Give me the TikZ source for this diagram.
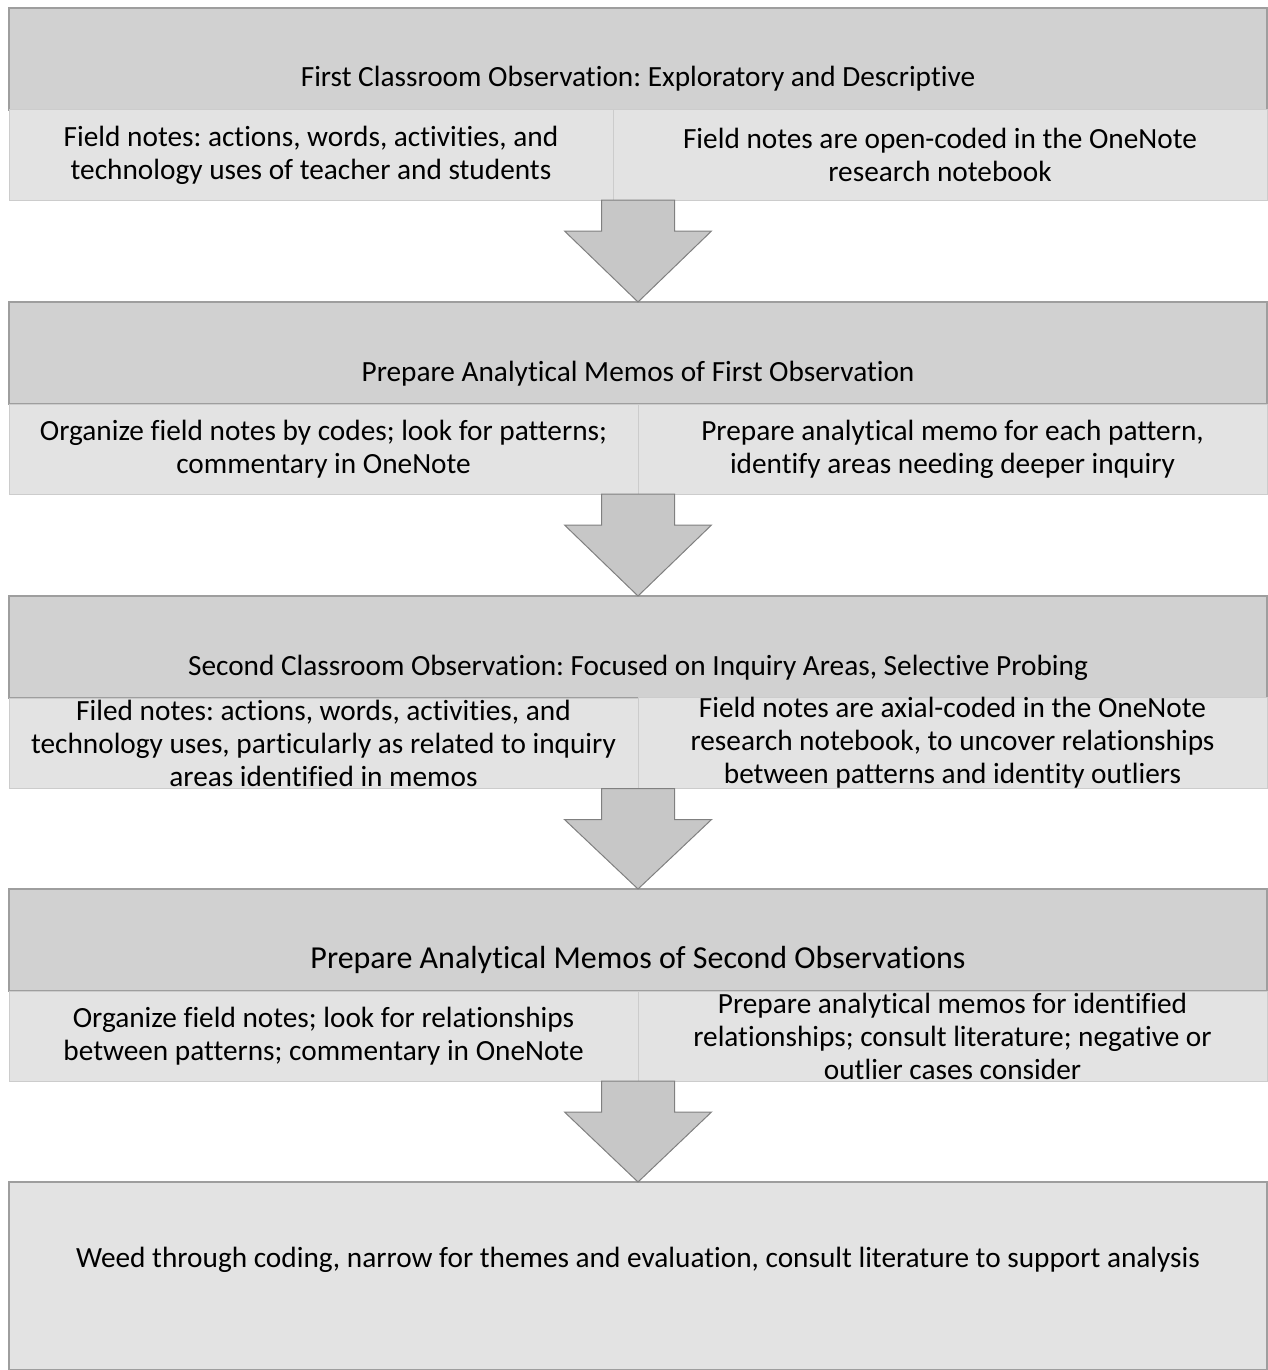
\documentclass[tikz,border=0pt]{standalone}
\usepackage{fontspec}
\setmainfont{Carlito}[Ligatures=NoCommon]
\frenchspacing
\usetikzlibrary{positioning,calc}

\newcommand{\flowarrow}[2]{%
  \draw[bigarrow] let \p1=(#1.south), \p2=(#2.north) in
    (\x2-36.5,\y1) -- (\x2+36.5,\y1) -- (\x2+36.5,\y1-31) -- (\x2+73.5,\y1-31)
    -- (\x2,\y2) -- (\x2-73.5,\y1-31) -- (\x2-36.5,\y1-31) -- cycle;}

\begin{document}
\begin{tikzpicture}[x=1pt,y=-1pt,
    head/.style={rectangle,fill=black!18,draw=black!38,line width=1.2pt,
      minimum width=1258pt,inner sep=0pt,outer sep=0pt,
      text height=79pt,text depth=23pt,anchor=north west,
      font=\fontsize{29.3}{35}\selectfont},
    sub/.style={rectangle,fill=black!11,draw=black!20,line width=1pt,
      minimum height=90pt,inner sep=0pt,outer sep=0pt,align=center,
      font=\fontsize{29.3}{33}\selectfont},
    bigarrow/.style={fill=black!22,draw=black!50,line width=1pt,line join=miter}]
  \useasboundingbox (0,0) rectangle (1267,1370);

  % first observation
  \node[head] (obs1) at (9,8) {First Classroom Observation: Exploratory and Descriptive};
  \node[sub,minimum width=604pt,below right=0pt and 0pt of obs1.south west] (obs1a)
    {Field notes: actions, words, activities, and\\technology uses of teacher and students};
  \node[sub,minimum width=654pt,right=0pt of obs1a] (obs1b)
    {Field notes are open-coded in the OneNote\\research notebook};

  % memos of first observation
  \node[head] (memo1) at (9,302) {Prepare Analytical Memos of First Observation};
  \node[sub,minimum width=629pt,below right=0pt and 0pt of memo1.south west] (memo1a)
    {Organize field notes by codes; look for patterns;\\commentary in OneNote};
  \node[sub,minimum width=629pt,right=0pt of memo1a] (memo1b)
    {Prepare analytical memo for each pattern,\\identify areas needing deeper inquiry};

  % second observation
  \node[head] (obs2) at (9,596) {Second Classroom Observation: Focused on Inquiry Areas, Selective Probing};
  \node[sub,minimum width=629pt,below right=0pt and 0pt of obs2.south west] (obs2a)
    {Filed notes: actions, words, activities, and\\technology uses, particularly as related to inquiry\\areas identified in memos};
  \node[sub,minimum width=629pt,right=0pt of obs2a] (obs2b)
    {Field notes are axial-coded in the OneNote\\research notebook, to uncover relationships\\between patterns and identity outliers};

  % memos of second observation
  \node[head,font=\fontsize{32}{38}\selectfont] (memo2) at (9,889) {Prepare Analytical Memos of Second Observations};
  \node[sub,minimum width=629pt,below right=0pt and 0pt of memo2.south west] (memo2a)
    {Organize field notes; look for relationships\\between patterns; commentary in OneNote};
  \node[sub,minimum width=629pt,right=0pt of memo2a] (memo2b)
    {Prepare analytical memos for identified\\relationships; consult literature; negative or\\outlier cases consider};

  % themes
  \node[head,fill=black!11,text height=85pt,text depth=103pt] (themes) at (9,1182)
    {Weed through coding, narrow for themes and evaluation, consult literature to support analysis};

  % arrows
  \flowarrow{obs1b}{memo1}
  \flowarrow{memo1b}{obs2}
  \flowarrow{obs2b}{memo2}
  \flowarrow{memo2b}{themes}
\end{tikzpicture}
\end{document}
